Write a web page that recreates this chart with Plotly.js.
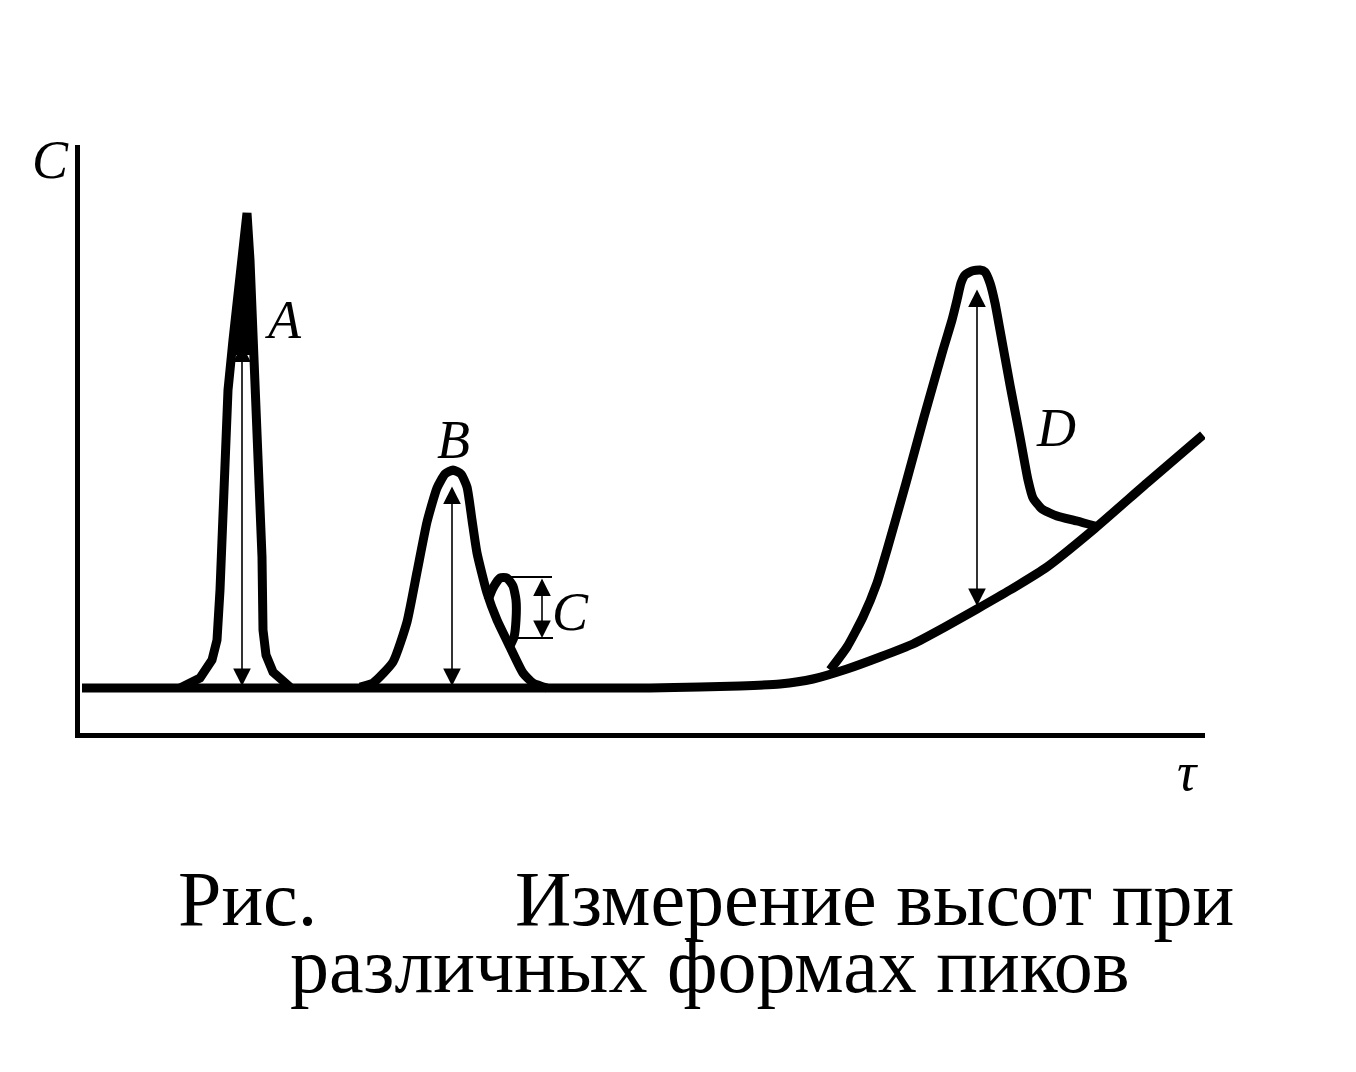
<!DOCTYPE html>
<html>
<head>
<meta charset="utf-8">
<script src="https://cdn.plot.ly/plotly-3.0.1.min.js"></script>
<style>html,body{margin:0;padding:0;background:#fff;}#chart{width:1356px;height:1072px;}</style>
</head>
<body>
<div id="chart"></div>
<script>
// Baseline (drifting at the end)
const baseX = [4, 222, 422, 572, 622, 662, 702, 735, 769, 802, 835, 867, 899, 932, 969, 1015, 1069, 1125];
const baseY = [45, 45, 45, 45, 46, 47, 49, 54, 64, 76, 89, 106, 124, 143, 166, 203, 250, 298];
// Peak A (narrow, sharp)
const peakAX = [102, 122, 134, 139, 142, 145, 150, 155, 162, 169, 172, 174, 179, 184, 185, 188, 195, 212];
const peakAY = [45, 55, 73, 93, 143, 243, 343, 393, 453, 520, 473, 426, 310, 176, 103, 78, 61, 46];
const tipAX = [154, 169, 177];
const tipAY = [378, 520, 378];
// Peak B
const peakBX = [282, 295, 315, 329, 339, 349, 359, 367, 375, 383, 389, 394, 399, 409, 419, 432, 445, 455, 469];
const peakBY = [46, 50, 71, 111, 161, 211, 245, 259, 263, 259, 246, 213, 180, 140, 113, 86, 60, 50, 45];
// Peak C (small, on the tail of B)
const peakCX = [410, 415, 422, 429, 435, 438, 438, 436, 431];
const peakCY = [133, 145, 155, 155, 147, 133, 113, 96, 85];
// Peak D (on a rising baseline)
const peakDX = [752, 769, 785, 799, 809, 828, 846, 865, 874, 879, 883, 887, 894, 902, 907, 912, 917, 922, 932, 942, 950, 955, 964, 979, 999, 1017];
const peakDY = [63, 86, 116, 150, 183, 250, 316, 383, 413, 433, 450, 458, 462, 463, 461, 450, 430, 403, 348, 296, 253, 235, 224, 217, 212, 207];
// Height arrows: x position, top, bottom
const arrowX = [164, 374, 464, 899];
const arrowTop = [390, 248, 156, 445];
const arrowBottom = [47, 47, 95, 127];
// Reference lines for peak C
const refCX0 = [425, 439];
const refCX1 = [474, 475];
const refCY = [156, 95];
// Peak labels
const labelText = ['A', 'B', 'C', 'D'];
const labelX = [205, 375, 492, 978];
const labelY = [413, 293, 121, 305];
// Axis labels
const axisYLabel = 'C';
const axisXLabel = 'τ';
// Caption
const captionParts = ['Рис.', 'Измерение высот при', 'различных формах пиков'];

const lw = 9;
const line = {color: '#000', width: lw, shape: 'spline', smoothing: 0.5};
const traces = [
  {x: baseX, y: baseY, mode: 'lines', line: line},
  {x: peakAX, y: peakAY, mode: 'lines', line: Object.assign({}, line, {shape: 'linear'})},
  {x: tipAX, y: tipAY, mode: 'lines', fill: 'toself', fillcolor: '#000', line: {color: '#000', width: 2}},
  {x: peakBX, y: peakBY, mode: 'lines', line: line},
  {x: peakCX, y: peakCY, mode: 'lines', line: line},
  {x: peakDX, y: peakDY, mode: 'lines', line: line}
];
refCY.forEach((yy, i) => {
  traces.push({x: [refCX0[i], refCX1[i]], y: [yy, yy], mode: 'lines', line: {color: '#000', width: 2}});
});

const annotations = [];
arrowX.forEach((ax, i) => {
  annotations.push({
    x: ax, y: arrowBottom[i], ax: ax, ay: arrowTop[i], axref: 'x', ayref: 'y', xref: 'x', yref: 'y',
    text: '', showarrow: true, arrowside: 'end+start', arrowhead: 2, arrowsize: 2.2, arrowwidth: 1.6,
    arrowcolor: '#000', standoff: 0, startstandoff: 0
  });
});
const italic = {family: 'Liberation Serif, serif', size: 54, color: '#000', style: 'italic'};
labelText.forEach((t, i) => {
  annotations.push({x: labelX[i], y: labelY[i], xref: 'x', yref: 'y', text: t, showarrow: false, font: italic});
});
const px = (p) => (p - 80) / 1125;
const py = (p) => (733 - p) / 588;
annotations.push({x: px(50), y: py(160), xref: 'paper', yref: 'paper', xanchor: 'center', yanchor: 'middle', text: axisYLabel, showarrow: false, font: italic});
annotations.push({x: px(1187), y: py(772), xref: 'paper', yref: 'paper', xanchor: 'center', yanchor: 'middle', text: axisXLabel, showarrow: false, font: italic});

const cap = {family: 'Liberation Serif, Times New Roman, serif', size: 78, color: '#000'};
annotations.push({x: px(176), y: py(898), xref: 'paper', yref: 'paper', xanchor: 'left', yanchor: 'middle', text: captionParts[0], showarrow: false, font: cap});
annotations.push({x: px(513), y: py(898), xref: 'paper', yref: 'paper', xanchor: 'left', yanchor: 'middle', text: captionParts[1], showarrow: false, font: cap});
annotations.push({x: px(288), y: py(965), xref: 'paper', yref: 'paper', xanchor: 'left', yanchor: 'middle', text: captionParts[2], showarrow: false, font: cap});

const layout = {
  width: 1356, height: 1072,
  margin: {l: 80, r: 151, t: 145, b: 339, pad: 0},
  paper_bgcolor: '#fff', plot_bgcolor: '#fff',
  showlegend: false,
  xaxis: {range: [2, 1127], showline: true, linecolor: '#000', linewidth: 5, showgrid: false, zeroline: false, showticklabels: false, ticks: ''},
  yaxis: {range: [0, 588], showline: true, linecolor: '#000', linewidth: 5, showgrid: false, zeroline: false, showticklabels: false, ticks: ''},
  annotations: annotations,
  hovermode: false
};
Plotly.newPlot('chart', traces, layout, {displayModeBar: false, staticPlot: true});
</script>
</body>
</html>
